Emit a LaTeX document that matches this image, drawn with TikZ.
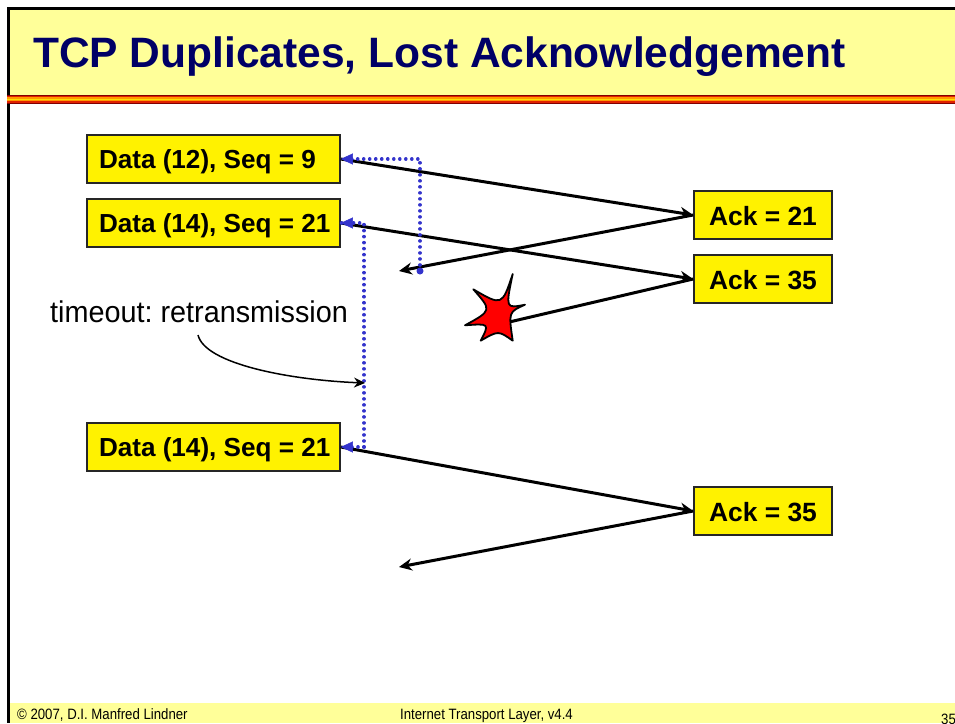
\documentclass[tikz,border=0pt]{standalone}
\usepackage{fontspec}
\setmainfont{Liberation Sans}
\usetikzlibrary{arrows.meta}
\definecolor{hdr}{HTML}{FFFF99}
\definecolor{ttl}{HTML}{000066}
\definecolor{dotblue}{HTML}{3333CC}
\definecolor{sa}{HTML}{800000}
\definecolor{sb}{HTML}{E02000}
\definecolor{sc}{HTML}{FF9900}
\definecolor{sd}{HTML}{FFDD00}
\AtBeginDocument{\frenchspacing}
\newcommand{\datatext}[1]{\makebox[229pt][l]{#1}}
\tikzset{
  x=1pt,y=-1pt,
  databox/.style={draw=black!85,line width=1.6pt,fill=yellow,minimum width=253pt,minimum height=48pt,inner xsep=12pt,inner ysep=0pt,text height=19pt,text depth=0pt,font=\fontsize{26.1}{28}\selectfont\bfseries},
  ackbox/.style={draw=black!85,line width=1.6pt,fill=yellow,minimum width=138pt,minimum height=48pt,inner ysep=0pt,text height=20pt,text depth=0pt,font=\fontsize{26.4}{28}\selectfont\bfseries},
  msg/.style={line width=3pt,-{Stealth[length=13pt,width=12pt]}},
  plainmsg/.style={line width=3pt},
  timer/.style={dotblue,line width=3.6pt,dash pattern=on 0.01pt off 6pt,line cap=round},
  timertip/.style={dotblue,-{Triangle[length=12pt,width=11pt]},line width=.5pt},
  foot/.style={anchor=base west,inner sep=0pt,font=\fontsize{15}{18}\selectfont,xscale=.88}
}
\begin{document}
\begin{tikzpicture}
\useasboundingbox (0,0) rectangle (955,723);
\clip (0,0) rectangle (955,723);
\fill[white] (0,0) rectangle (955,723);
% header and footer bands
\fill[hdr] (9,9) rectangle (955,95);
\fill[hdr] (9,703) rectangle (955,723);
\fill[black] (7,7) rectangle (955,10);
\fill[black] (7,7) rectangle (10,723);
% stripe
\fill[sa] (7,95) rectangle (955,96);
\fill[sb] (7,96) rectangle (955,97);
\fill[sc] (7,97) rectangle (955,98.5);
\fill[sd] (7,98.5) rectangle (955,100);
\fill[sc] (7,100) rectangle (955,101);
\fill[sb] (7,101) rectangle (955,102.5);
\fill[sa] (7,102.5) rectangle (955,104);
\node[anchor=base west,inner sep=0pt,text=ttl,font=\fontsize{42.5}{46}\selectfont\bfseries] (title) at (33,67) {TCP Duplicates, Lost Acknowledgement};
% boxes
\node[databox] (d1) at (213.5,159) {\datatext{Data (12), Seq = 9}};
\node[databox] (d2) at (213.5,223) {\datatext{Data (14), Seq = 21}};
\node[databox] (d3) at (213.5,447) {\datatext{Data (14), Seq = 21}};
\node[ackbox] (a1) at (763,215) {Ack = 21};
\node[ackbox] (a2) at (763,279) {Ack = 35};
\node[ackbox] (a3) at (763,511) {Ack = 35};
\node[anchor=base west,inner sep=0pt,font=\fontsize{30}{34}\selectfont,xscale=.96] (tm) at (50,322.7) {timeout: retransmission};
% free ends
\coordinate (r1) at (399,271);
\coordinate (r3) at (399,567);
\coordinate (hit) at (505,323);
\coordinate (t1a) at (420,271);
\coordinate (t1b) at (420,159);
\coordinate (t2a) at (364,447);
\coordinate (t2b) at (364,223);
\coordinate (t3) at (365,383);
\coordinate (cv) at (198,335);
% messages
\draw[msg] (d1.east) -- (a1.west);
\draw[msg] (a1.west) -- (r1);
\draw[msg] (d2.east) -- (a2.west);
\draw[plainmsg] (a2.west) -- (hit);
\draw[msg] (d3.east) -- (a3.west);
\draw[msg] (a3.west) -- (r3);
% timers
\draw[timer] (t1a) -- (t1b) -- (d1.east);
\draw[timer] (t2a) -- (t2b) -- (d2.east);
\draw[timer] (t2a) -- (d3.east);
\fill[dotblue] (t1a) circle (3.5pt);
\draw[timertip] ([xshift=13pt]d1.east) -- (d1.east);
\draw[timertip] ([xshift=13pt]d2.east) -- (d2.east);
\draw[timertip] ([xshift=13pt]d3.east) -- (d3.east);
% curve
\draw[line width=1.5pt,-{Stealth[length=11pt,width=10pt]}] (cv) .. controls (205,364) and (290,380) .. (t3);
% explosion
\draw[fill=red,draw=black,line width=1.8pt,line join=round]
 (512.7,274) .. controls (505.5,308.5) .. (525,304.7)
 .. controls (508.5,312) .. (512.7,340.7)
 .. controls (498.4,330.5) .. (480.7,340.7)
 .. controls (489.5,323.5) .. (465,325.3)
 .. controls (492,310.5) .. (473.3,289.3)
 .. controls (502,306) .. cycle;
% footer
\node[foot] (f1) at (17,719) {© 2007, D.I. Manfred Lindner};
\node[foot] (f2) at (400,719) {Internet Transport Layer, v4.4};
\node[foot] (f3) at (941,724) {35};
\end{tikzpicture}
\end{document}
